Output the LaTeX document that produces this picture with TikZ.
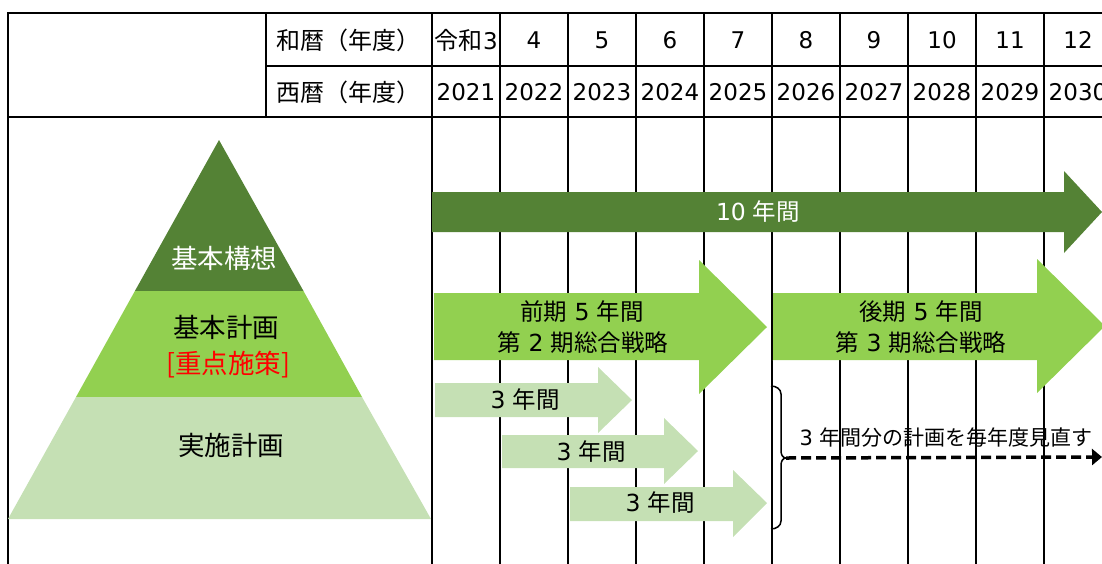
\documentclass[tikz,border=0pt]{standalone}
\usepackage{fontspec}
\setmainfont{Noto Sans CJK JP}
\newfontfamily\latfont{DejaVu Sans}
\usetikzlibrary{arrows.meta}
\definecolor{dkg}{HTML}{548235}
\definecolor{mdg}{HTML}{92D050}
\definecolor{ltg}{HTML}{C5E0B4}
\newcommand\dg[1]{{\latfont #1}}
\newcommand\gp{\hspace{0.3em}}
\begin{document}
\begin{tikzpicture}[x=1pt,y=-1pt,
  gridline/.style={line width=2.5pt,line cap=rect},
  hdr/.style={inner sep=0pt,font=\fontsize{24}{28}\selectfont},
  num/.style={inner sep=0pt,font=\fontsize{23}{26}\selectfont\latfont},
  pyr/.style={inner sep=0pt,font=\fontsize{26.5}{30}\selectfont},
  lbl/.style={inner sep=0pt,font=\fontsize{23.5}{27}\selectfont},
  small/.style={inner sep=0pt,font=\fontsize{21}{25}\selectfont}]
\useasboundingbox (0,0) rectangle (1102,563);
% table grid
\draw[gridline] (8,13) -- (1110,13);
\draw[gridline] (266,66) -- (1110,66);
\draw[gridline] (8,117) -- (1110,117);
\draw[gridline] (8,13) -- (8,570);
\draw[gridline] (266,13) -- (266,117);
\foreach \i in {0,...,9}{
  \draw[gridline] ({432+68*\i},13) -- ({432+68*\i},570);
}
% header texts
\node[hdr,anchor=west] (wlabel) at (276,40) {和暦（年度）};
\node[hdr,anchor=west] (slabel) at (276,92) {西暦（年度）};
\node[hdr] (w0) at (466,40) {令和\hspace{1pt}{\latfont\fontsize{23}{26}\selectfont 3}};
\foreach \w [count=\i from 1] in {4,5,6,7,8,9,10,11,12}{
  \node[num] (w\i) at ({466+68*\i},40) {\w};
}
\foreach \y [count=\i from 0] in {2021,2022,2023,2024,2025,2026,2027,2028,2029,2030}{
  \node[num] (s\i) at ({466+68*\i},92) {\y};
}
% pyramid
\fill[dkg] (219,140) -- (303.5,291) -- (134.9,291) -- cycle;
\fill[mdg] (134.9,291) -- (303.5,291) -- (362,397) -- (76,397) -- cycle;
\fill[ltg] (76,397) -- (362,397) -- (431,519) -- (8,519) -- cycle;
\node[pyr,text=white] (kk) at (224,258) {基本構想};
\node[pyr] (kp) at (226,327) {基本計画};
\node[pyr,text=red] (js) at (228,365) {[重点施策]};
\node[pyr] (ip) at (231,445) {実施計画};
% ten-year arrow
\fill[dkg] (432,192) -- (1064,192) -- (1064,171) -- (1102,212) -- (1064,253) -- (1064,232) -- (432,232) -- cycle;
\node[lbl,text=white] (ten) at (758,212) {\dg{10}\gp 年間};
% five-year arrows
\fill[mdg] (434,293) -- (699,293) -- (699,260) -- (767,327) -- (699,394) -- (699,360) -- (434,360) -- cycle;
\fill[mdg] (772,293) -- (1037,293) -- (1037,259) -- (1105,326) -- (1037,393) -- (1037,360) -- (772,360) -- cycle;
\draw[line width=1pt] (772,293) -- (772,360);
\node[lbl] (f1) at (582,312) {前期\gp\dg{5}\gp 年間};
\node[lbl] (f2) at (583,343) {第\gp\dg{2}\gp 期総合戦略};
\node[lbl] (l1) at (921,312) {後期\gp\dg{5}\gp 年間};
\node[lbl] (l2) at (921,343) {第\gp\dg{3}\gp 期総合戦略};
% three-year arrows
\fill[ltg] (435,383) -- (598,383) -- (598,367) -- (632,400) -- (598,433) -- (598,417) -- (435,417) -- cycle;
\fill[ltg] (502,435) -- (664,435) -- (664,418) -- (698,451) -- (664,484) -- (664,468) -- (502,468) -- cycle;
\fill[ltg] (570,487) -- (733,487) -- (733,470) -- (767,503) -- (733,537) -- (733,521) -- (570,521) -- cycle;
\node[lbl] (t1) at (525,400) {\dg{3}\gp 年間};
\node[lbl] (t2) at (591,452) {\dg{3}\gp 年間};
\node[lbl] (t3) at (660,503) {\dg{3}\gp 年間};
% brace and review arrow
\coordinate (bt) at (786,458);
\coordinate (re) at (1102,457);
\draw[line width=1.5pt] (771,386) to[out=0,in=90] (781,394) -- (781,451) to[out=-90,in=180] (bt) to[out=180,in=90] (781,465) -- (781,521) to[out=-90,in=0] (771,529);
\draw[line width=3.5pt,dash pattern=on 10pt off 5pt,-{Triangle[length=10pt,width=16pt]}] (bt) -- (re);
\node[small] (rv) at (946,438) {\dg{3}\gp 年間分の計画を毎年度見直す};
\end{tikzpicture}
\end{document}
